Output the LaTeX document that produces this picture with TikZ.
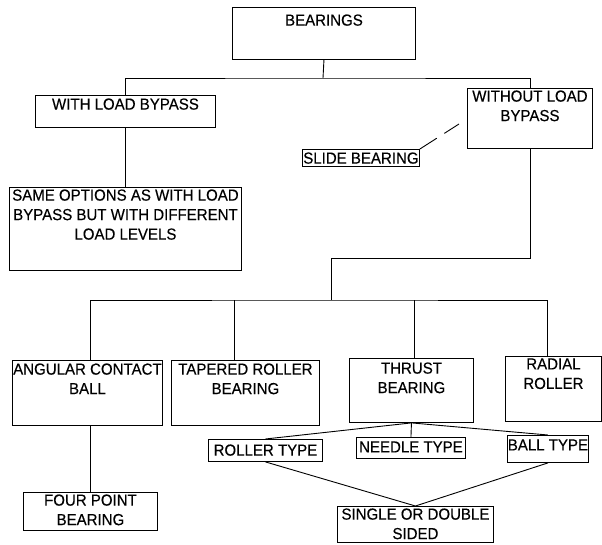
\documentclass[tikz,border=0pt]{standalone}
\usepackage{fontspec}
\setmainfont{Liberation Sans}[FakeStretch=0.94,FakeBold=0.3]
\usetikzlibrary{calc}

\newcommand{\cell}[4]{\parbox[c][#2pt][t]{#1pt}{\centering\vspace*{#3pt}#4}}

\begin{document}
\begin{tikzpicture}[x=1pt,y=-1pt,
  box/.style={draw,line width=0.9pt,inner sep=0pt,anchor=north west,
    font=\fontsize{16}{19.5}\selectfont},
  link/.style={line width=0.9pt}]
\useasboundingbox (0,0) rectangle (602,545);
\node[box] (bear) at (232,7) {\cell{183}{52}{7}{BEARINGS}};
\node[box] (wlb) at (35,95) {\cell{180}{32}{3}{WITH LOAD BYPASS}};
\node[box] (wolb) at (467,88) {\cell{125}{60}{2}{WITHOUT LOAD\\BYPASS}};
\node[box] (slide) at (302,149) {\cell{117}{17}{3}{SLIDE BEARING}};
\node[box] (same) at (9,187) {\cell{232}{83}{2}{SAME OPTIONS AS WITH LOAD\\BYPASS BUT WITH DIFFERENT\\LOAD LEVELS}};
\node[box] (ang) at (12,360) {\cell{150}{65}{3}{ANGULAR CONTACT\\BALL}};
\node[box] (tap) at (171,360) {\cell{148}{65}{3}{TAPERED ROLLER\\BEARING}};
\node[box] (thr) at (349,358) {\cell{124}{64}{4}{THRUST\\BEARING}};
\node[box] (rad) at (505,356) {\cell{96}{65}{2}{RADIAL\\ROLLER}};
\node[box] (roller) at (208,439) {\cell{114}{22}{5}{ROLLER TYPE}};
\node[box] (needle) at (356,437) {\cell{109}{21}{4}{NEEDLE TYPE}};
\node[box] (ball) at (507,435) {\cell{81}{27}{4}{BALL TYPE}};
\node[box] (four) at (23,492) {\cell{134}{38}{2}{FOUR POINT\\BEARING}};
\node[box] (single) at (337,506) {\cell{156}{36}{2}{SINGLE OR DOUBLE\\SIDED}};

\coordinate (split) at (323,78);
\coordinate (turn) at (331,258);
\coordinate (hub) at (331,300);
\coordinate (slidetip) at (459,124);

\draw[link] (bear.south) -- (split);
\draw[link] (wlb.north) |- (split) -| (wolb.north);
\draw[link,line width=1.4pt] (wlb.south) -- (same.north);
\draw[link,dashed,dash pattern=on 20pt off 9pt] (slide.north east) -- (slidetip);
\draw[link] (wolb.south) |- (turn) -- (hub);
\draw[link] ([xshift=3]ang.north) |- (hub) -| ([xshift=-6]rad.north);
\draw[link] ([xshift=-11]tap.north) -- ([xshift=-11]tap.north |- hub);
\draw[link] ([xshift=3]thr.north) -- ([xshift=3]thr.north |- hub);
\draw[link] ([xshift=3]ang.south) -- ([xshift=3]ang.south |- four.north);
\draw[link] (thr.south) -- (roller.north);
\draw[link] (thr.south) -- (needle.north);
\draw[link] (thr.south) -- (ball.north);
\draw[link] (roller.south) -- (single.north);
\draw[link] (ball.south) -- (single.north);
\end{tikzpicture}
\end{document}
